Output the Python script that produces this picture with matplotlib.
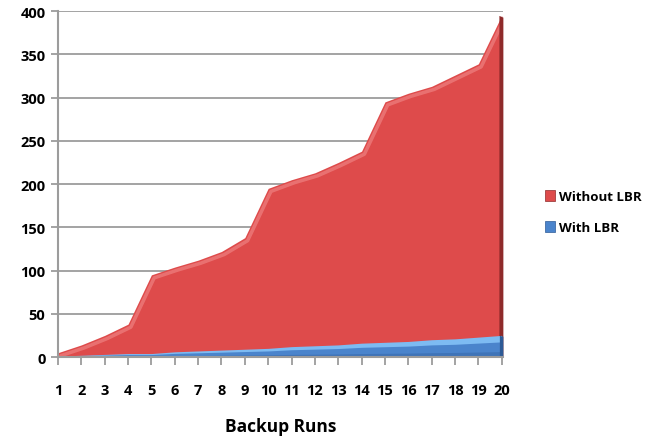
import numpy as np
import matplotlib.pyplot as plt
from matplotlib.patches import Patch

plt.rcParams['font.family'] = ['Open Sans', 'DejaVu Sans']

runs = list(range(1, 21))
without_lbr = [5, 14, 25, 38, 95, 104, 112, 122, 138, 195,
               205, 213, 225, 238, 295, 305, 313, 326, 339, 395]
with_lbr = [1, 2, 3, 4, 4, 6, 7, 8, 9, 10,
            12, 13, 14, 16, 17, 18, 20, 21, 23, 25]

red = '#DE4B4B'
red_light = '#F28A8A'
red_dark = '#8E2A2A'
blue = '#4A84CC'
blue_light = '#7DBBF2'
blue_dark = '#2D5A96'
grid_col = '#9C9C9C'

fig = plt.figure(figsize=(6.68, 4.39), dpi=100)
ax = fig.add_axes([0.0868, 0.1845, 0.666, 0.788])

x = np.array(runs, dtype=float)
wo = np.array(without_lbr, dtype=float)
wi = np.array(with_lbr, dtype=float)

# red area, with a pale rim along the top and a dark side face at the end
ax.fill_between(x, 0, wo, color=red, lw=0, zorder=2)
ax.plot(x + 0.12, wo - 3.5, color=red_light, lw=2.5, alpha=0.6, solid_capstyle='round', zorder=3)
ax.fill_between([x[-1] - 0.12, x[-1] + 0.05], 0, [wo[-1], wo[-1] - 2], color=red_dark, lw=0, zorder=3)

# blue area: light top surface over a darker front face
ax.fill_between(x, 0, wi, color=blue_light, lw=0, zorder=4)
ax.fill_between(x, 0, wi * 0.7, color=blue, lw=0, zorder=5)
ax.fill_between(x, 0, wi * 0.25, color='#3F74B8', lw=0, zorder=5)
ax.fill_between([x[-1] - 0.1, x[-1] + 0.05], 0, [wi[-1], wi[-1] - 1], color=blue_dark, lw=0, zorder=5)

ax.set_xlim(1, 20.05)
ax.set_ylim(0, 400)
ax.set_yticks(range(0, 401, 50))
ax.set_xticks(runs)
ax.set_xticklabels([str(r) for r in runs])

ax.grid(axis='y', color=grid_col, lw=1.3, zorder=1)
ax.set_axisbelow(True)
for s in ['top', 'right']:
    ax.spines[s].set_visible(False)
for s in ['left', 'bottom']:
    ax.spines[s].set_color(grid_col)
    ax.spines[s].set_linewidth(1.5)
    ax.spines[s].set_zorder(6)

ax.tick_params(axis='y', length=5, color=grid_col, width=1.3, labelsize=10.5, pad=4)
ax.tick_params(axis='x', length=6, color=grid_col, width=1.3, labelsize=10.5, pad=13)
for lab in ax.get_xticklabels() + ax.get_yticklabels():
    lab.set_fontweight('bold')

ax.set_xlabel('Backup Runs', fontsize=12.5, fontweight='bold', labelpad=14)

handles = [Patch(facecolor=red, edgecolor=red_dark, lw=0.5, label='Without LBR'),
           Patch(facecolor=blue, edgecolor=blue_dark, lw=0.5, label='With LBR')]
fig.legend(handles=handles, loc='center left', bbox_to_anchor=(0.798, 0.515),
           frameon=False, prop={'weight': 'bold', 'size': 9.5},
           handlelength=0.8, handleheight=0.9, handletextpad=0.25, labelspacing=1.35)

fig.savefig('out.png', dpi=100)
